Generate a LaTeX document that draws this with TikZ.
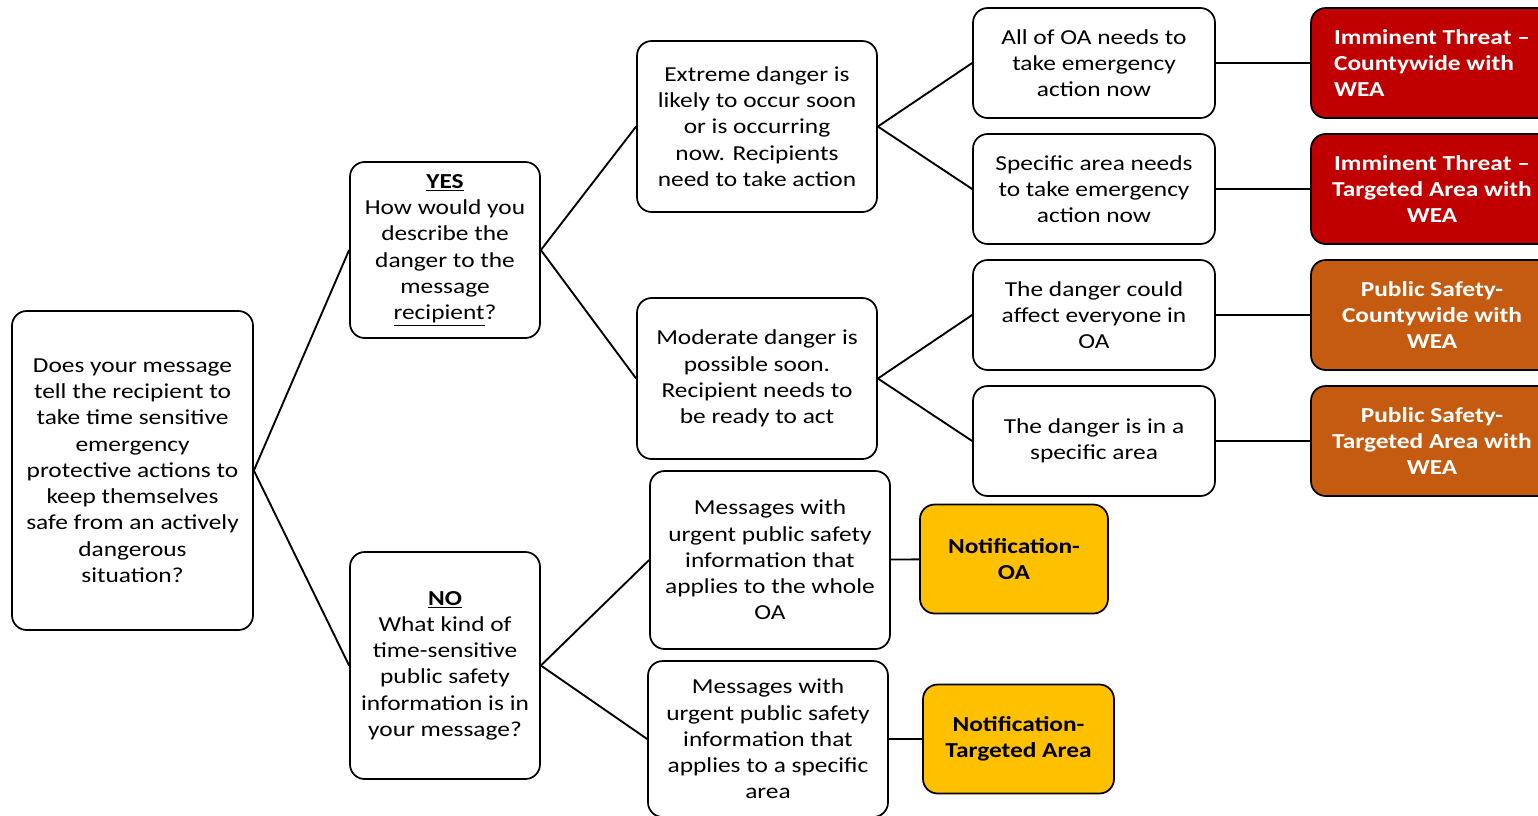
\documentclass[tikz,border=0pt]{standalone}
\usepackage{fontspec}
\setmainfont{Carlito}[FakeStretch=1.19]
\usetikzlibrary{positioning}

\definecolor{roed}{HTML}{C00000}
\definecolor{oransje}{HTML}{C55A11}
\definecolor{gul}{HTML}{FFC000}

\begin{document}
\begin{tikzpicture}[
        x=0.75pt, y=-0.75pt,
        punkt/.style = {rectangle, draw, rounded corners=11pt, line width=1.3pt,
                        align=center, inner sep=0pt,
                        minimum width=181.5pt, minimum height=82.5pt},
        valg/.style = {punkt, text=white, font=\fontsize{16pt}{19.7pt}\selectfont\bfseries},
        varsel/.style = {punkt, fill=gul, font=\fontsize{16pt}{19.7pt}\selectfont\bfseries,
                         minimum height=81.75pt},
        pil/.style = {black, line width=1.4pt},
        font=\fontsize{16pt}{19.7pt}\selectfont
        ]

        \clip (0,0) rectangle (1538,815);

        \node[punkt, minimum width=180.75pt, minimum height=239.25pt] (root) at (132.5,470.5)
          {Does your message\\ tell the recipient to\\ take time sensitive\\ emergency\\ protective actions to\\ keep themselves\\ safe from an actively\\ dangerous\\ situation?};
        \node[punkt, minimum width=142.5pt, minimum height=132pt] (yes) at (445,250)
          {\textbf{\underline{YES}}\\ How would you\\ describe the\\ danger to the\\ message\\ \underline{recipient}?};
        \node[punkt, minimum width=142.5pt, minimum height=170.25pt] (no) at (445,665.5)
          {\textbf{\underline{NO}}\\ What kind of\\ time-sensitive\\ public safety\\ information is in\\ your message?};

        \node[punkt, minimum width=180pt, minimum height=128.25pt] (extreme) at (757,126.5)
          {Extreme danger is\\ likely to occur soon\\ or is occurring\\ now. Recipients\\ need to take action};
        \node[punkt, minimum width=180pt, minimum height=120.75pt] (moderate) at (757,378.5)
          {Moderate danger is\\ possible soon.\\ Recipient needs to\\ be ready to act};
        \node[punkt, minimum width=180pt, minimum height=133.5pt] (msgOA) at (770,560)
          {Messages with\\ urgent public safety\\ information that\\ applies to the whole\\ OA};
        \node[punkt, minimum width=180pt, minimum height=117pt] (msgArea) at (768,739)
          {Messages with\\ urgent public safety\\ information that\\ applies to a specific\\ area};

        \node[punkt] (allOA) at (1094,63) {All of OA needs to\\ take emergency\\ action now};
        \node[punkt] (specArea) at (1094,189) {Specific area needs\\ to take emergency\\ action now};
        \node[punkt] (couldAll) at (1094,315) {The danger could\\ affect everyone in\\ OA};
        \node[punkt] (inArea) at (1094,441) {The danger is in a\\ specific area};

        \node[valg, fill=roed, align=left] (imCounty) at (1432,63) {Imminent Threat --\\ Countywide with\\ WEA};
        \node[valg, fill=roed] (imArea) at (1432,189) {Imminent Threat --\\ Targeted Area with\\ WEA};
        \node[valg, fill=oransje] (psCounty) at (1432,315) {Public Safety-\\ Countywide with\\ WEA};
        \node[valg, fill=oransje] (psArea) at (1432,441) {Public Safety-\\ Targeted Area with\\ WEA};

        \node[varsel, minimum width=141pt] (notOA) at (1014,559) {Notification-\\ OA};
        \node[varsel, minimum width=143.25pt] (notArea) at (1018.5,739) {Notification-\\ Targeted Area};

        \draw[pil] (root.east) edge (yes.west)
        (root.east) edge (no.west)
        (yes.east) edge (extreme.west)
        (yes.east) edge (moderate.west)
        (no.east) edge (msgOA.west)
        (no.east) edge (msgArea.west)
        (extreme.east) edge (allOA.west)
        (extreme.east) edge (specArea.west)
        (moderate.east) edge (couldAll.west)
        (moderate.east) edge (inArea.west)
        (allOA) edge (imCounty)
        (specArea) edge (imArea)
        (couldAll) edge (psCounty)
        (inArea) edge (psArea)
        (msgOA) edge (notOA)
        (msgArea) edge (notArea);

      \end{tikzpicture}
\end{document}
